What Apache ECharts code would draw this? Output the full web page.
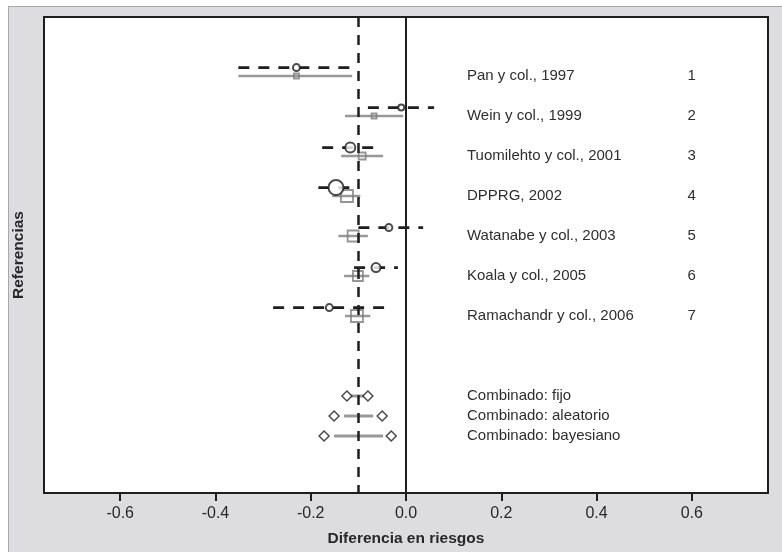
<!DOCTYPE html>
<html>
<head>
<meta charset="utf-8">
<script src="https://cdn.jsdelivr.net/npm/echarts@6/dist/echarts.min.js"></script>
<style>
  html, body { margin: 0; padding: 0; background: #ffffff; }
  #wrap { position: relative; width: 782px; height: 552px; overflow: hidden; }
  #panel { position: absolute; left: 8px; top: 6px; width: 774px; height: 546px; background: #dddddf; border-left: 1px solid #a8a8aa; border-top: 1px solid #a8a8aa; box-sizing: border-box; }
  #chart { position: absolute; left: 0; top: 0; width: 782px; height: 552px; }
</style>
</head>
<body>
<div id="wrap"><div id="panel"></div><div id="chart"></div></div>
<script>
// ---- Data ----
const studies = ['Pan y col., 1997', 'Wein y col., 1999', 'Tuomilehto y col., 2001', 'DPPRG, 2002',
                 'Watanabe y col., 2003', 'Koala y col., 2005', 'Ramachandr y col., 2006'];
const studyNumbers = ['1', '2', '3', '4', '5', '6', '7'];
const studyRows = [1, 2, 3, 4, 5, 6, 7];

// black (dashed) intervals with circle estimate
const freqEst = [-0.230, -0.010, -0.117, -0.147, -0.036, -0.063, -0.161];
const freqLo  = [-0.352, -0.080, -0.176, -0.184, -0.100, -0.109, -0.279];
const freqHi  = [-0.111,  0.059, -0.057, -0.113,  0.036, -0.017, -0.044];
const circleWeight = [7, 6, 10, 15, 7, 9, 7];

// grey intervals with square estimate
const grayEst = [-0.230, -0.067, -0.092, -0.124, -0.111, -0.101, -0.103];
const grayLo  = [-0.352, -0.128, -0.136, -0.155, -0.142, -0.130, -0.128];
const grayHi  = [-0.113, -0.006, -0.048, -0.096, -0.080, -0.077, -0.075];
const squareWeight = [5, 5, 7, 12, 11, 10, 12];

// pooled estimates
const pooledNames = ['Combinado: fijo', 'Combinado: aleatorio', 'Combinado: bayesiano'];
const pooledRows = [9, 9.5, 10];
const pooledLo = [-0.124, -0.151, -0.172];
const pooledHi = [-0.080, -0.050, -0.031];
const pooledBarLo = [-0.119, -0.130, -0.151];
const pooledBarHi = [-0.086, -0.069, -0.048];

const refLines = [0, -0.1];
const xTicks = [-0.6, -0.4, -0.2, 0.0, 0.2, 0.4, 0.6];
const labelX = 0.128;
const numberX = 0.6;

// ---- Build ----
const OFF = 0.21;
const FONT = '"Liberation Sans", Arial, sans-serif';

function segRender(color, width, dash) {
  return function (params, api) {
    const p1 = api.coord([api.value(0), api.value(2)]);
    const p2 = api.coord([api.value(1), api.value(2)]);
    return {
      type: 'line',
      shape: { x1: p1[0], y1: p1[1], x2: p2[0], y2: p2[1] },
      style: { stroke: color, lineWidth: width, lineDash: dash || null }
    };
  };
}
function textRender(list, align) {
  return function (params, api) {
    const p = api.coord([api.value(0), api.value(1)]);
    return {
      type: 'text',
      style: {
        text: list[params.dataIndex].t, x: p[0], y: p[1],
        align: align, verticalAlign: 'middle',
        textAlign: align, textVerticalAlign: 'middle',
        fill: '#2e2e2e', font: '15px ' + FONT
      }
    };
  };
}

const blackSegs = studyRows.map((r, i) => [freqLo[i], freqHi[i], r - OFF]);
const graySegs = studyRows.map((r, i) => [grayLo[i], grayHi[i], r]);
const pooledSegs = pooledRows.map((r, i) => [pooledBarLo[i], pooledBarHi[i], r]);
const circles = studyRows.map((r, i) => ({ value: [freqEst[i], r - OFF], symbolSize: circleWeight[i] }));
const squares = studyRows.map((r, i) => ({ value: [grayEst[i], r], symbolSize: squareWeight[i] }));
const diamonds = [];
pooledRows.forEach((r, i) => { diamonds.push([pooledLo[i], r]); diamonds.push([pooledHi[i], r]); });

const textData = [];
studyRows.forEach((r, i) => textData.push({ value: [labelX, r], t: studies[i] }));
pooledRows.forEach((r, i) => textData.push({ value: [labelX, r], t: pooledNames[i] }));
const numData = studyRows.map((r, i) => ({ value: [numberX, r], t: studyNumbers[i] }));

const chart = echarts.init(document.getElementById('chart'), null, { renderer: 'canvas' });
chart.setOption({
  backgroundColor: 'transparent',
  animation: false,
  grid: { left: 44, top: 17, right: 14, bottom: 59, show: true, backgroundColor: '#ffffff', borderColor: '#1e1e1e', borderWidth: 2 },
  xAxis: {
    type: 'value', min: -0.76, max: 0.76,
    name: 'Diferencia en riesgos', nameLocation: 'middle', nameGap: 38,
    nameTextStyle: { fontFamily: FONT, fontSize: 15.5, fontWeight: 'bold', color: '#282828' },
    axisLine: { show: true, onZero: false, lineStyle: { color: '#1e1e1e', width: 2 } },
    splitLine: { show: false },
    axisTick: { show: true, inside: false, length: 8, lineStyle: { color: '#1e1e1e', width: 2 }, customValues: xTicks },
    axisLabel: { fontFamily: FONT, fontSize: 16, color: '#282828', margin: 13, customValues: xTicks,
                 formatter: v => v.toFixed(1) }
  },
  yAxis: {
    type: 'value', inverse: true, min: -0.475, max: 11.425,
    name: 'Referencias', nameLocation: 'middle', nameGap: 17, nameRotate: 90,
    nameTextStyle: { fontFamily: FONT, fontSize: 15.5, fontWeight: 'bold', color: '#282828' },
    axisLine: { show: false, onZero: false }, axisTick: { show: false }, axisLabel: { show: false }, splitLine: { show: false }
  },
  series: [
    { type: 'custom', name: 'grayCI', renderItem: segRender('#989898', 2.5), data: graySegs, encode: { x: [0, 1], y: 2 }, z: 2, silent: true },
    { type: 'custom', name: 'pooledCI', renderItem: segRender('#989898', 3), data: pooledSegs, encode: { x: [0, 1], y: 2 }, z: 2, silent: true },
    { type: 'scatter', name: 'squares', symbol: 'rect', data: squares, z: 3, silent: true,
      itemStyle: { color: 'rgba(255,255,255,0)', borderColor: '#7a7a7a', borderWidth: 1.8 } },
    { type: 'line', name: 'ref', data: [], z: 4, silent: true,
      markLine: { silent: true, symbol: 'none', label: { show: false },
        data: [
          { xAxis: refLines[0], lineStyle: { color: '#1e1e1e', width: 2, type: 'solid' } },
          { xAxis: refLines[1], lineStyle: { color: '#1e1e1e', width: 2.5, type: [10, 8] } }
        ] } },
    { type: 'custom', name: 'blackCI', renderItem: segRender('#1e1e1e', 2.8, [11, 9]), data: blackSegs, encode: { x: [0, 1], y: 2 }, z: 5, silent: true },
    { type: 'scatter', name: 'circles', symbol: 'circle', data: circles, z: 6, silent: true,
      itemStyle: { color: '#ffffff', borderColor: '#1e1e1e', borderWidth: 2 } },
    { type: 'scatter', name: 'diamonds', symbol: 'diamond', symbolSize: 10, data: diamonds, z: 6, silent: true,
      itemStyle: { color: '#ffffff', borderColor: '#1e1e1e', borderWidth: 1.5 } },
    { type: 'custom', name: 'labels', renderItem: textRender(textData, 'left'), data: textData, encode: { x: 0, y: 1 }, z: 7, silent: true },
    { type: 'custom', name: 'numbers', renderItem: textRender(numData, 'center'), data: numData, encode: { x: 0, y: 1 }, z: 7, silent: true }
  ]
});
</script>
</body>
</html>
